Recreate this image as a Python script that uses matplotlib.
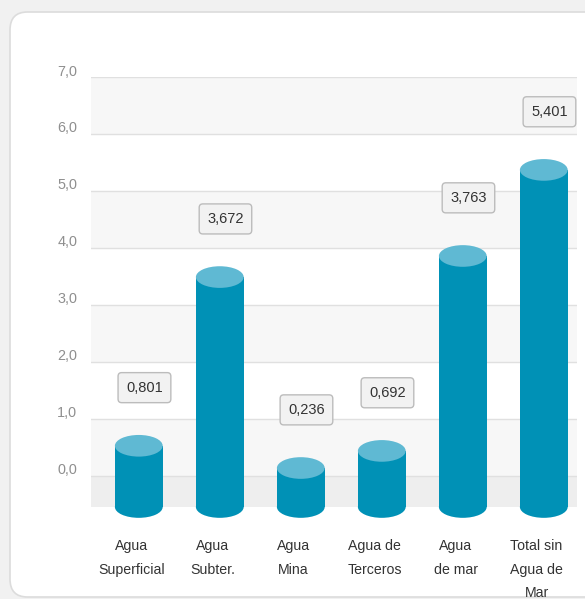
import matplotlib.pyplot as plt
from matplotlib.patches import Rectangle, Ellipse, FancyBboxPatch
from matplotlib.transforms import ScaledTranslation

plt.rcParams['font.family'] = ['Liberation Sans', 'DejaVu Sans']

# datos del grafico
categorias = ['Agua\nSuperficial', 'Agua\nSubter.', 'Agua\nMina',
              'Agua de\nTerceros', 'Agua\nde mar', 'Total sin\nAgua de\nMar']
valores = [0.801, 3.672, 0.236, 0.692, 3.763, 5.401]
# altura a la que se ve la tapa de cada cilindro en la imagen
alturas = [0.53, 3.49, 0.14, 0.44, 3.86, 5.37]
etiquetas = ['0,801', '3,672', '0,236', '0,692', '3,763', '5,401']
ticks_y = [0, 1, 2, 3, 4, 5, 6, 7]
ticks_y_txt = ['0,0', '1,0', '2,0', '3,0', '4,0', '5,0', '6,0', '7,0']

azul = '#0091b6'
azul_claro = '#5fb9d3'
base = -0.544
ancho = 0.59
ry = 0.19  # semieje vertical de las elipses

fig = plt.figure(figsize=(5.85, 5.99), dpi=100, facecolor='#f1f1f1')

# tarjeta blanca de fondo
tarjeta = FancyBboxPatch((10 / 585, 2 / 599), 1.2, 585 / 599,
                         boxstyle='round,pad=0,rounding_size=0.03',
                         transform=fig.transFigure, fc='white', ec='#dcdcdc',
                         lw=1.2, zorder=-10)
fig.patches.append(tarjeta)

ax = fig.add_axes([91 / 585, 1 - 507 / 599, 486 / 585, 430 / 599])
ax.set_facecolor('none')
ax.set_xlim(-0.5, 5.5)
ax.set_ylim(base, 7)

# bandas alternas y lineas de cuadricula
ax.axhspan(base, 0, color='#eeeeee', zorder=0, lw=0)
for i in range(0, 7, 2):
    ax.axhspan(i, i + 1, color='#f7f7f7', zorder=0, lw=0)
for t in ticks_y:
    ax.axhline(t, color='#e0e0e0', lw=1, zorder=1)

for s in ax.spines.values():
    s.set_visible(False)

ax.set_yticks(ticks_y)
ax.set_yticklabels(ticks_y_txt, fontsize=10.4, color='#8f8f8f')
ax.tick_params(axis='y', length=0, pad=10)
desplaza = ScaledTranslation(0, 0.07, fig.dpi_scale_trans)
for lab in ax.get_yticklabels():
    lab.set_transform(lab.get_transform() + desplaza)

ax.set_xticks(range(len(categorias)))
ax.set_xticklabels(categorias, fontsize=10.2, color='#333333', linespacing=1.88)
ax.tick_params(axis='x', length=0, pad=23)

# cilindros
for i, h in enumerate(alturas):
    x = i + 0.09
    ax.add_patch(Ellipse((x, base), ancho, 2 * ry, fc=azul, ec='none',
                         zorder=3, clip_on=False))
    ax.add_patch(Rectangle((x - ancho / 2, base), ancho, h - base, fc=azul,
                           ec='none', zorder=3, clip_on=False))
    ax.add_patch(Ellipse((x, h), ancho, 2 * ry, fc=azul_claro, ec='none',
                         zorder=4, clip_on=False))
    ax.text(x + 0.07, h + 1.02, etiquetas[i], ha='center', va='center',
            fontsize=10.5, color='#333333', zorder=5,
            bbox=dict(boxstyle='round,pad=0.55,rounding_size=0.25',
                      fc='#f2f2f2', ec='#bcbcbc', lw=1))

fig.savefig('out.png', dpi=100, facecolor=fig.get_facecolor())
